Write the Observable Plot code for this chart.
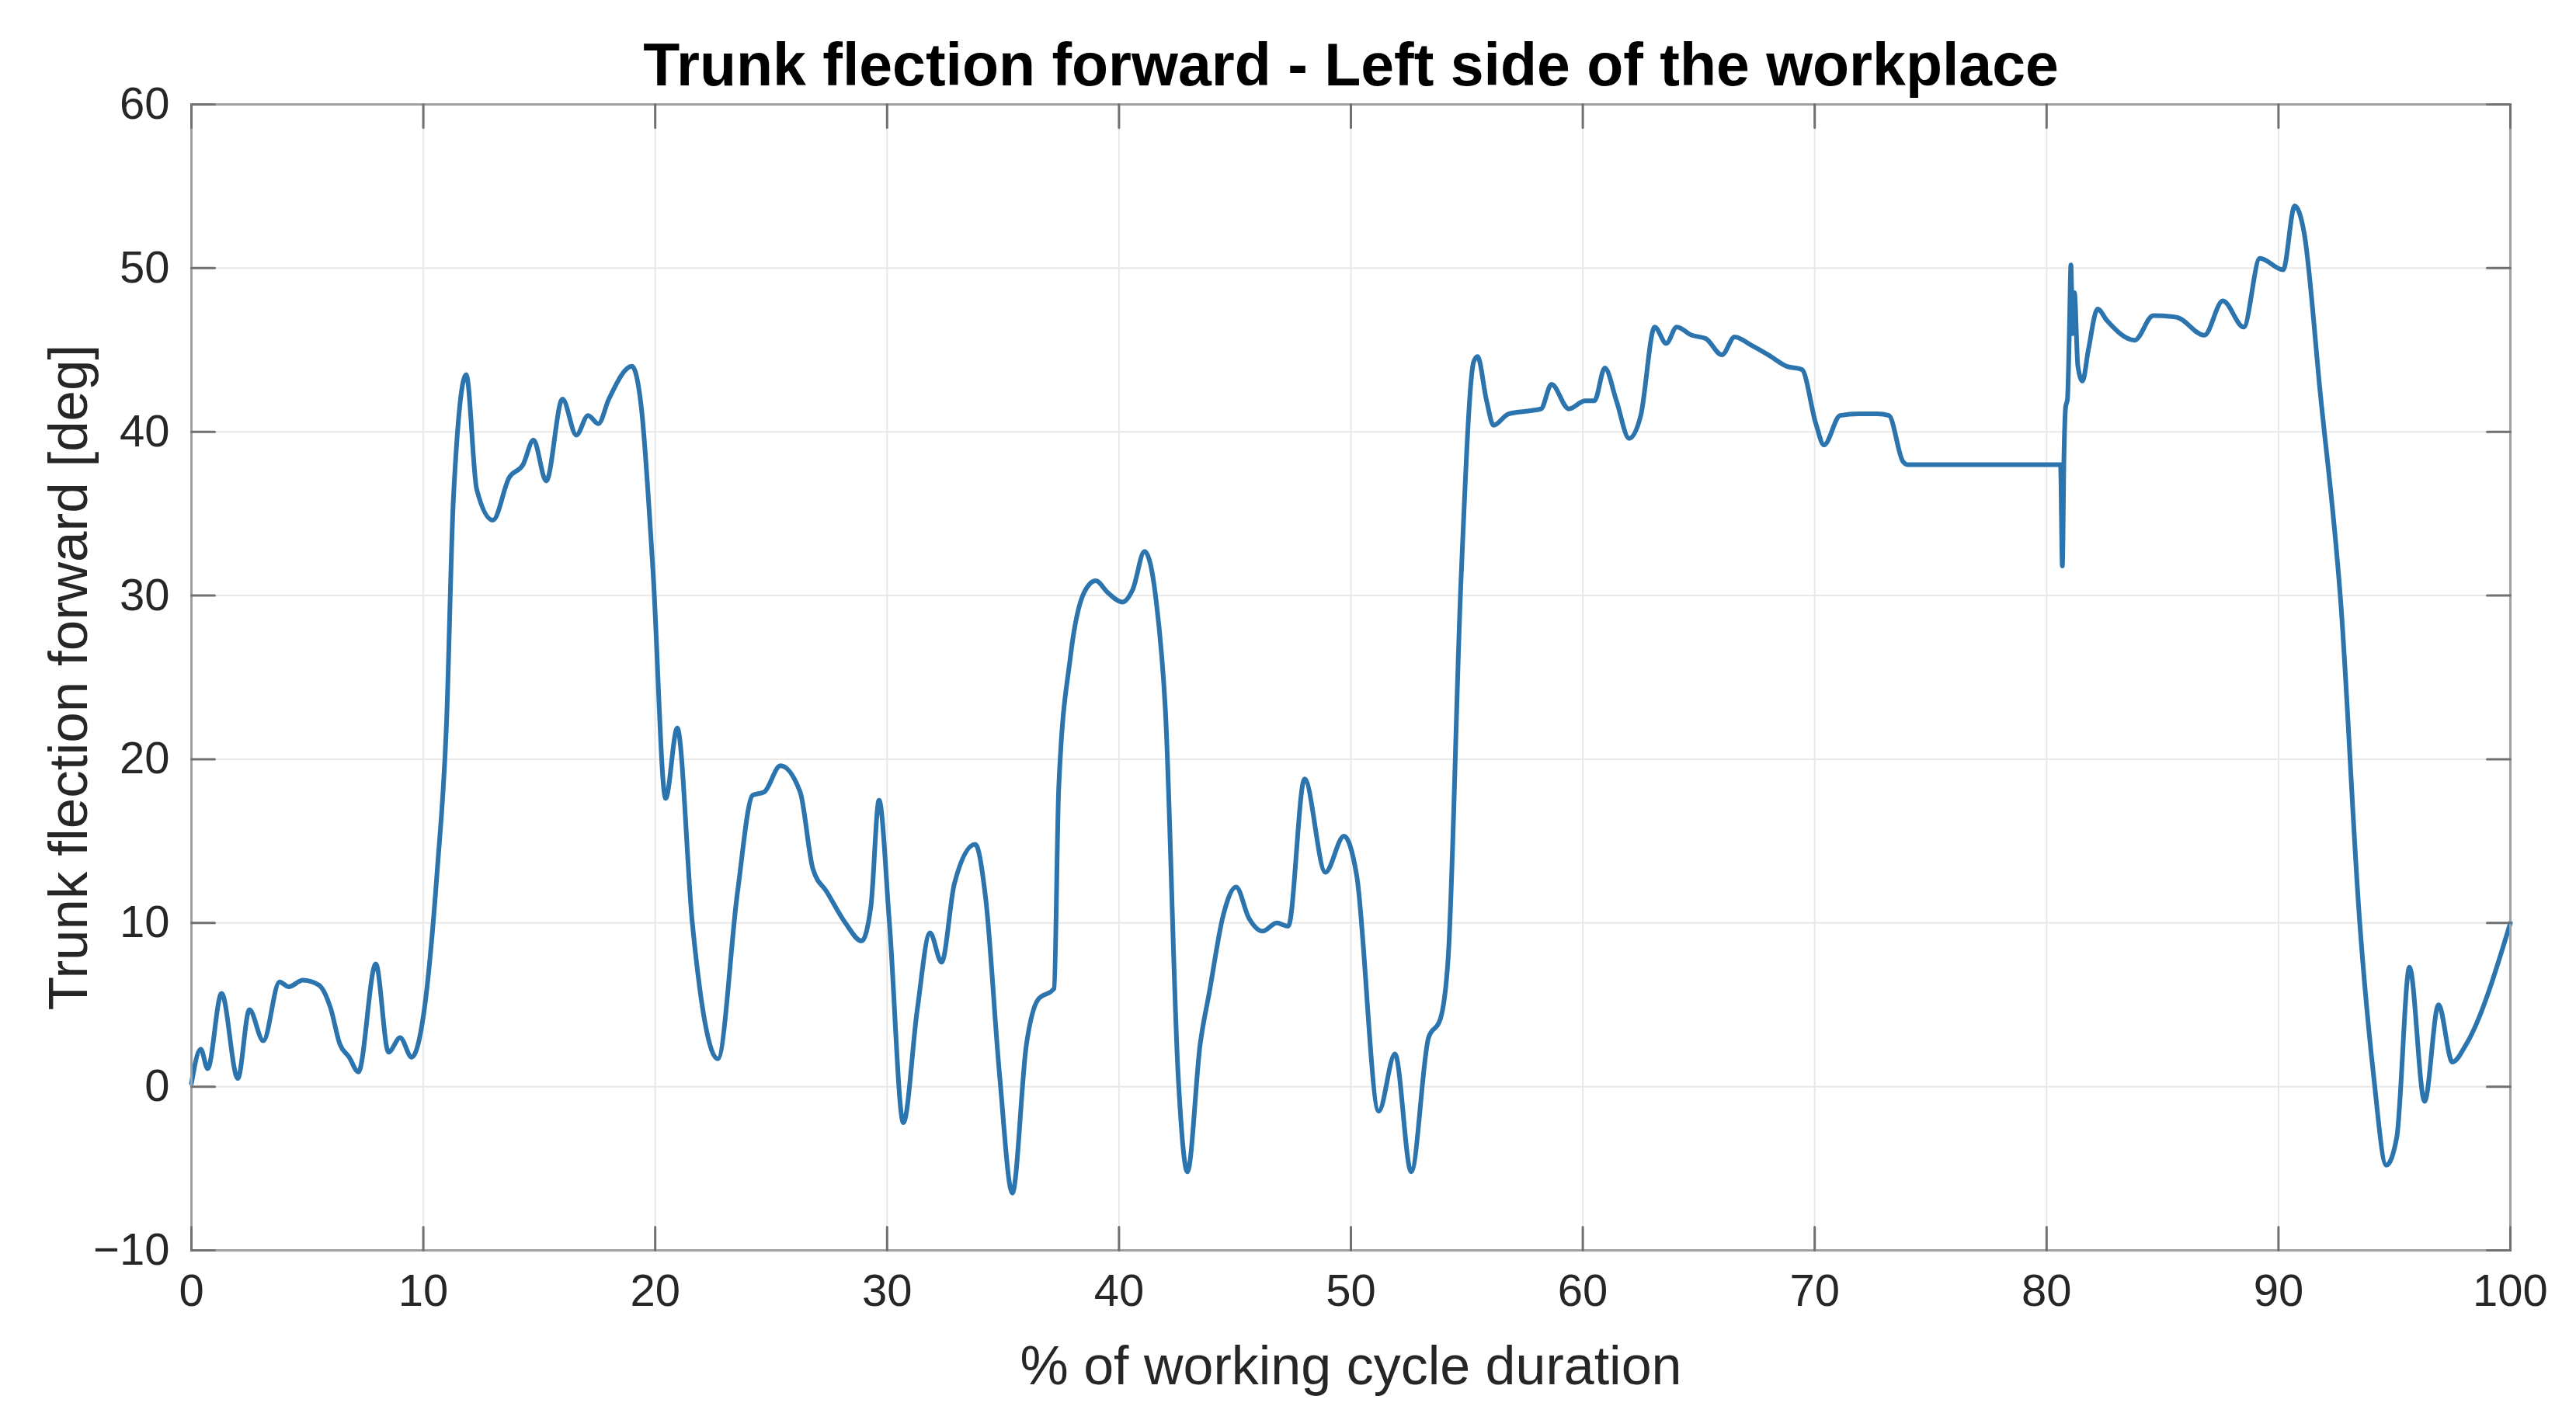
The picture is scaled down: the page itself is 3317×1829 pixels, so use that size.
<!DOCTYPE html>
<html><head><meta charset="utf-8">
<script src="https://cdn.jsdelivr.net/npm/d3@7"></script>
<script src="https://cdn.jsdelivr.net/npm/@observablehq/plot@0.6"></script>
<style>body{margin:0;background:#fff;}</style>
</head><body><div id="chart"></div>
<script>
const title = "Trunk flection forward - Left side of the workplace";
const xLabel = "% of working cycle duration";
const yLabel = "Trunk flection forward [deg]";
const xTicks = [0, 10, 20, 30, 40, 50, 60, 70, 80, 90, 100];
const yTicks = [-10, 0, 10, 20, 30, 40, 50, 60];

const cyclePct = [
  0, 0.4, 0.7, 1.3, 2.0, 2.5, 3.1, 3.8, 4.2, 4.8, 5.5, 6.0, 6.4, 6.8, 7.2, 7.95, 8.5, 9.0, 9.5, 10.0,
  10.6, 11.0, 11.3, 11.85, 12.3, 13.0, 13.7, 14.3, 14.75, 15.3, 16.0, 16.6, 17.1, 17.55, 18.0, 19.0, 19.4, 19.9,
  20.45, 20.95, 21.6, 22.7, 23.55, 24.2, 24.7, 25.4, 26.25, 26.8, 27.4, 28.2, 28.9, 29.3, 29.65,
  30.1, 30.7, 31.3, 31.85, 32.35, 32.9, 33.8, 34.25, 34.85, 35.4, 36.0, 36.5, 37.2, 37.4, 37.9, 38.5, 39.0, 39.5,
  40.15, 40.6, 41.1, 41.6, 42.0, 42.55, 42.95, 43.5, 43.9, 44.5, 45.05, 45.6, 46.2, 46.8, 47.3, 48.0, 48.9, 49.7,
  50.25, 51.2, 51.9, 52.6, 53.35, 53.85, 54.2, 54.75, 55.3, 55.46, 55.85, 56.15, 56.8, 57.8, 58.2, 58.65, 59.4,
  60.1, 60.5, 60.95, 61.45, 62.0, 62.5, 63.1, 63.6, 64.05, 64.7, 65.3, 66.0, 66.55, 67.25, 68.0, 68.8, 69.45,
  70.05, 70.4, 71.1, 71.9, 72.7, 73.2, 73.8, 74.0, 80.6,
  80.68, 80.75, 80.82, 80.9, 80.98, 81.05, 81.12, 81.2, 81.35, 81.55, 81.8, 82.2, 82.6, 83.8, 84.6, 85.6,
  86.8, 87.6, 88.5, 89.2, 90.2, 90.7, 91.1, 91.8, 92.7, 93.5, 94.1, 94.65, 95.1, 95.65, 96.3, 96.9, 97.5, 98.1, 100
];
const flexionDeg = [
  0.2, 2.3, 1.1, 5.7, 0.5, 4.7, 2.8, 6.4, 6.1, 6.5, 6.2, 4.8, 2.6, 1.8, 0.9, 7.5, 2.1, 3.0, 1.8, 4.3,
  13.2, 22.2, 36, 43.5, 36.5, 34.6, 37.2, 38.0, 39.5, 37.0, 42.0, 39.8, 41.0, 40.5, 42.0, 44.0, 41.5, 31.6,
  17.6, 21.9, 10.0, 1.7, 11.9, 17.8, 18.0, 19.6, 18.0, 13.3, 11.9, 10.0, 8.9, 11.0, 17.5,
  10.0, -2.2, 4.7, 9.4, 7.6, 12.4, 14.8, 11.5, 0.7, -6.5, 2.5, 5.3, 6.0, 18.2, 26.2, 30.2, 30.9, 30.2,
  29.6, 30.4, 32.7, 29.7, 23.0, 0.7, -5.2, 2.6, 5.8, 10.5, 12.2, 10.3, 9.5, 10.0, 9.8, 18.8, 13.1, 15.3,
  12.9, -1.5, 2.0, -5.2, 3.0, 4.1, 8.0, 31, 44.3, 44.6, 41.9, 40.4, 41.1, 41.3, 41.4, 42.9, 41.4,
  41.9, 41.9, 43.9, 41.9, 39.6, 41.0, 46.4, 45.4, 46.4, 45.9, 45.7, 44.7, 45.8, 45.3, 44.7, 44.0, 43.8,
  40.5, 39.2, 41.0, 41.1, 41.1, 41.0, 38.2, 38.0, 38.0,
  31.8, 38.5, 41.5, 42.0, 46, 50.2, 46.0, 48.5, 44.0, 43.1, 45, 47.5, 46.8, 45.6, 47.1, 47.0,
  45.9, 48.0, 46.4, 50.6, 49.9, 53.8, 52.2, 42.4, 29.3, 10.1, 0.7, -4.8, -3.1, 7.3, -0.9, 5.0, 1.5, 2.6, 10.0
];

const data = cyclePct.map((x, i) => ({x, y: flexionDeg[i]}));
const tickShape = {draw(context, l) { context.moveTo(0, 0); context.lineTo(0, -l); }};
const tickStyle = {length: 30, anchor: "start", shape: tickShape, stroke: "#707070", strokeWidth: 3};
const labelStyle = {text: d => d, textAnchor: "middle", lineAnchor: "middle"};

const chart = Plot.plot({
  width: 3317, height: 1829,
  marginLeft: 246, marginRight: 85, marginTop: 134, marginBottom: 219,
  style: {fontFamily: "'Liberation Sans', Arial, Helvetica, sans-serif", background: "#fff", color: "#262626"},
  x: {domain: [0, 100]},
  y: {domain: [-10, 60]},
  marks: [
    Plot.gridX(xTicks, {stroke: "#e8e8e8", strokeOpacity: 1, strokeWidth: 2}),
    Plot.gridY(yTicks, {stroke: "#e8e8e8", strokeOpacity: 1, strokeWidth: 2}),
    Plot.line(data, {x: "x", y: "y", stroke: "#2b74ae", strokeWidth: 6, curve: "monotone-x"}),
    Plot.frame({stroke: "#a0a0a0", strokeWidth: 3}),
    Plot.vector(xTicks, {x: d => d, frameAnchor: "bottom", rotate: 0, ...tickStyle}),
    Plot.vector(xTicks, {x: d => d, frameAnchor: "top", rotate: 180, ...tickStyle}),
    Plot.vector(yTicks, {y: d => d, frameAnchor: "left", rotate: 90, ...tickStyle}),
    Plot.vector(yTicks, {y: d => d, frameAnchor: "right", rotate: 270, ...tickStyle}),
    Plot.axisX(xTicks, {tickSize: 0, tickPadding: 30, fontSize: 58, label: null}),
    Plot.axisY(yTicks, {tickSize: 0, tickPadding: 28, fontSize: 58, label: null}),
    Plot.text([xLabel], {...labelStyle, frameAnchor: "bottom", dy: 150, fontSize: 70, fill: "#262626"}),
    Plot.text([yLabel], {...labelStyle, frameAnchor: "left", dx: -157, rotate: -90, fontSize: 71, fill: "#262626"}),
    Plot.text([title], {...labelStyle, frameAnchor: "top", dy: -49, fontSize: 77, fontWeight: "bold", fill: "#000"})
  ]
});
document.getElementById("chart").append(chart);
</script>
</body></html>
